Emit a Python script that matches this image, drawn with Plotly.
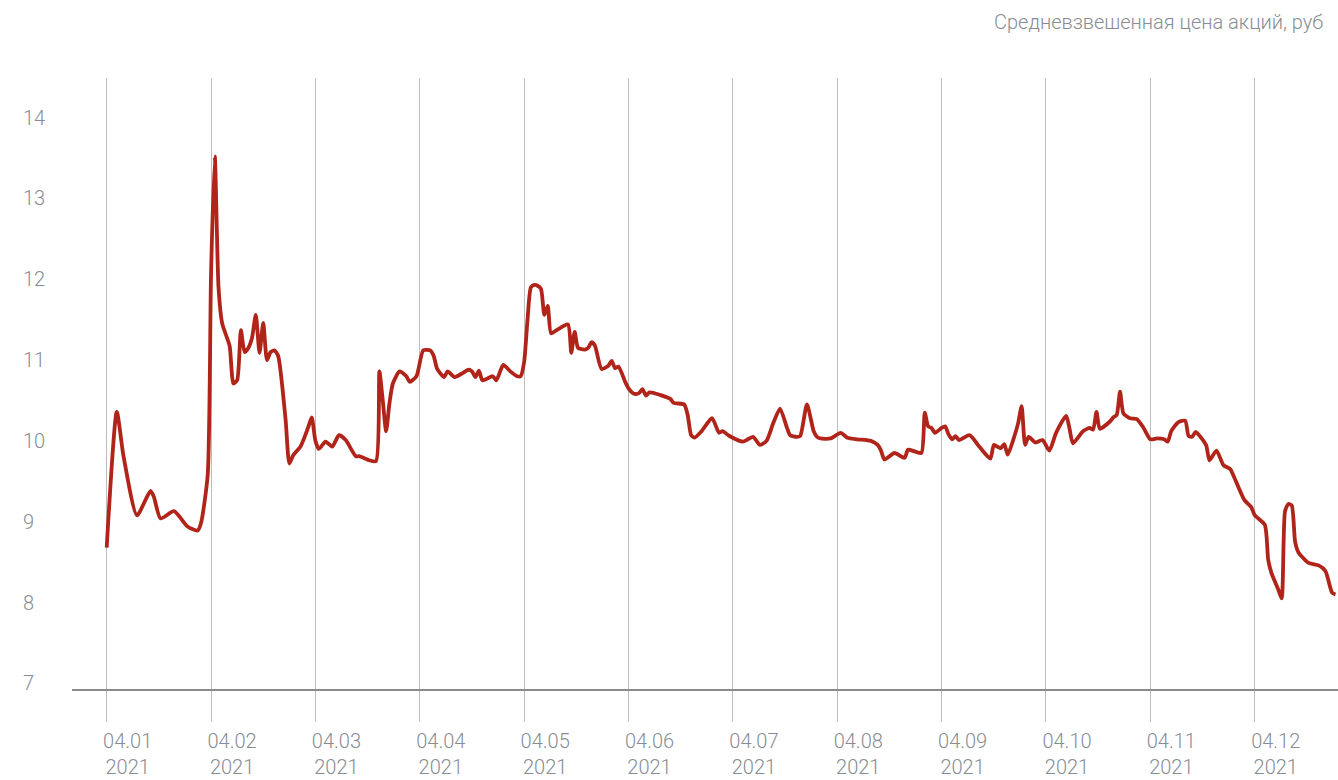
import datetime as dt
import plotly.graph_objects as go

# Weighted average share price, 2021 (rubles)
dates = [
    "2021-01-04", "2021-01-07", "2021-01-09", "2021-01-13", "2021-01-17", "2021-01-18",
    "2021-01-20", "2021-01-24", "2021-01-28", "2021-01-31", "2021-02-01", "2021-02-03",
    "2021-02-04", "2021-02-05", "2021-02-06", "2021-02-07", "2021-02-08", "2021-02-09",
    "2021-02-10", "2021-02-11", "2021-02-12", "2021-02-13", "2021-02-14", "2021-02-15",
    "2021-02-16", "2021-02-17", "2021-02-18", "2021-02-19", "2021-02-20", "2021-02-21",
    "2021-02-22", "2021-02-24", "2021-02-25", "2021-02-26", "2021-02-28", "2021-03-02",
    "2021-03-03", "2021-03-04", "2021-03-05", "2021-03-07", "2021-03-09", "2021-03-11",
    "2021-03-13", "2021-03-16", "2021-03-17", "2021-03-20", "2021-03-22", "2021-03-23",
    "2021-03-24", "2021-03-25", "2021-03-26", "2021-03-27", "2021-03-29", "2021-03-31",
    "2021-04-01", "2021-04-03", "2021-04-05", "2021-04-07", "2021-04-08", "2021-04-09",
    "2021-04-11", "2021-04-12", "2021-04-14", "2021-04-16", "2021-04-18", "2021-04-19",
    "2021-04-20", "2021-04-21", "2021-04-22", "2021-04-25", "2021-04-26", "2021-04-28",
    "2021-04-30", "2021-05-02", "2021-05-03", "2021-05-04", "2021-05-05", "2021-05-06",
    "2021-05-07", "2021-05-08", "2021-05-09", "2021-05-10", "2021-05-11", "2021-05-12",
    "2021-05-14", "2021-05-17", "2021-05-18", "2021-05-19", "2021-05-20", "2021-05-22",
    "2021-05-23", "2021-05-24", "2021-05-25", "2021-05-27", "2021-05-29", "2021-05-30",
    "2021-05-31", "2021-06-01", "2021-06-03", "2021-06-04", "2021-06-05", "2021-06-06",
    "2021-06-07", "2021-06-08", "2021-06-09", "2021-06-10", "2021-06-13", "2021-06-16",
    "2021-06-17", "2021-06-20", "2021-06-21", "2021-06-22", "2021-06-23", "2021-06-25",
    "2021-06-28", "2021-06-30", "2021-07-01", "2021-07-03", "2021-07-07", "2021-07-10",
    "2021-07-12", "2021-07-14", "2021-07-16", "2021-07-18", "2021-07-20", "2021-07-21",
    "2021-07-23", "2021-07-24", "2021-07-26", "2021-07-28", "2021-07-29", "2021-07-30",
    "2021-08-02", "2021-08-05", "2021-08-07", "2021-08-10", "2021-08-14", "2021-08-16",
    "2021-08-17", "2021-08-18", "2021-08-21", "2021-08-24", "2021-08-25", "2021-08-27",
    "2021-08-29", "2021-08-30", "2021-08-31", "2021-09-01", "2021-09-02", "2021-09-04",
    "2021-09-05", "2021-09-06", "2021-09-07", "2021-09-08", "2021-09-09", "2021-09-12",
    "2021-09-15", "2021-09-18", "2021-09-19", "2021-09-20", "2021-09-21", "2021-09-22",
    "2021-09-23", "2021-09-25", "2021-09-26", "2021-09-27", "2021-09-28", "2021-09-29",
    "2021-10-01", "2021-10-03", "2021-10-05", "2021-10-07", "2021-10-10", "2021-10-11",
    "2021-10-12", "2021-10-15", "2021-10-17", "2021-10-18", "2021-10-19", "2021-10-20",
    "2021-10-23", "2021-10-24", "2021-10-25", "2021-10-26", "2021-10-27", "2021-10-29",
    "2021-10-31", "2021-11-02", "2021-11-04", "2021-11-06", "2021-11-08", "2021-11-09",
    "2021-11-10", "2021-11-12", "2021-11-14", "2021-11-15", "2021-11-16", "2021-11-17",
    "2021-11-20", "2021-11-21", "2021-11-23", "2021-11-25", "2021-11-27", "2021-11-28",
    "2021-12-01", "2021-12-03", "2021-12-04", "2021-12-07", "2021-12-08", "2021-12-09",
    "2021-12-10", "2021-12-11", "2021-12-12", "2021-12-13", "2021-12-14", "2021-12-15",
    "2021-12-16", "2021-12-17", "2021-12-20", "2021-12-23", "2021-12-25", "2021-12-27",
    "2021-12-28",
]

prices = [
    8.68, 10.36, 9.81, 9.08, 9.38, 9.31,
    9.04, 9.13, 8.94, 8.89, 8.98, 9.58,
    12.08, 13.52, 11.90, 11.45, 11.31, 11.17,
    10.71, 10.75, 11.37, 11.10, 11.15, 11.28,
    11.56, 11.09, 11.46, 11.00, 11.10, 11.12,
    11.05, 10.26, 9.72, 9.82, 9.93, 10.16,
    10.29, 10.00, 9.90, 9.99, 9.93, 10.07,
    10.01, 9.81, 9.81, 9.76, 9.75, 10.86,
    10.50, 10.12, 10.47, 10.71, 10.86, 10.80,
    10.73, 10.80, 11.12, 11.12, 11.05, 10.89,
    10.79, 10.86, 10.79, 10.83, 10.88, 10.86,
    10.79, 10.87, 10.75, 10.80, 10.75, 10.94,
    10.86, 10.80, 10.80, 10.98, 11.50, 11.90,
    11.93, 11.92, 11.88, 11.56, 11.67, 11.33,
    11.38, 11.44, 11.09, 11.35, 11.15, 11.13,
    11.15, 11.22, 11.18, 10.89, 10.93, 10.99,
    10.90, 10.92, 10.73, 10.65, 10.60, 10.58,
    10.59, 10.64, 10.56, 10.60, 10.57, 10.52,
    10.47, 10.45, 10.32, 10.07, 10.04, 10.12,
    10.28, 10.10, 10.12, 10.06, 9.99, 10.05,
    9.95, 10.00, 10.22, 10.40, 10.17, 10.07,
    10.05, 10.06, 10.45, 10.12, 10.05, 10.03,
    10.03, 10.10, 10.04, 10.02, 10.00, 9.95,
    9.88, 9.77, 9.85, 9.79, 9.89, 9.87,
    9.85, 10.35, 10.18, 10.16, 10.10, 10.16,
    10.18, 10.08, 10.02, 10.06, 10.01, 10.07,
    9.92, 9.78, 9.95, 9.93, 9.91, 9.96,
    9.83, 10.07, 10.22, 10.43, 9.95, 10.05,
    9.98, 10.01, 9.88, 10.10, 10.31, 10.15,
    9.97, 10.12, 10.16, 10.14, 10.36, 10.15,
    10.24, 10.29, 10.32, 10.61, 10.34, 10.28,
    10.27, 10.16, 10.02, 10.03, 10.02, 9.99,
    10.12, 10.23, 10.25, 10.06, 10.05, 10.11,
    9.95, 9.76, 9.88, 9.70, 9.65, 9.56,
    9.27, 9.18, 9.08, 8.96, 8.53, 8.36,
    8.26, 8.16, 8.05, 9.13, 9.22, 9.20,
    8.75, 8.62, 8.49, 8.46, 8.39, 8.12,
    8.10,
]

month_labels = ["04.01", "04.02", "04.03", "04.04", "04.05", "04.06",
                "04.07", "04.08", "04.09", "04.10", "04.11", "04.12"]
year_label = "2021"
y_ticks = [7, 8, 9, 10, 11, 12, 13, 14]
title_text = "Средневзвешенная цена акций, руб"

MONTH_DAYS = [31, 28, 31, 30, 31, 30, 31, 31, 30, 31, 30, 31]


def month_position(s):
    """Position on an axis where each period from the 4th to the 4th has equal width."""
    d = dt.date.fromisoformat(s)
    m = d.month - 1
    if d.day >= 4:
        return m + (d.day - 4) / MONTH_DAYS[m]
    prev = (m - 1) % 12
    return m - 1 + (d.day - 4 + MONTH_DAYS[prev]) / MONTH_DAYS[prev]


xpos = [month_position(s) for s in dates]

LINE_RED = "#B0241A"
TEXT_GREY = "#878d94"
GRID_GREY = "#bdbdbd"
FONT = "Roboto"

fig = go.Figure()
fig.add_trace(go.Scatter(
    x=xpos, y=prices, mode="lines",
    line=dict(color=LINE_RED, width=3.8, shape="spline", smoothing=0.6),
    hoverinfo="skip",
))

fig.update_xaxes(
    range=[-0.3325, 11.798],
    automargin=False,
    tickmode="array",
    tickvals=list(range(len(month_labels))),
    ticktext=[f"{m}<br>{year_label}" for m in month_labels],
    showgrid=True, gridcolor=GRID_GREY, gridwidth=1,
    ticks="outside", ticklen=31, tickcolor=GRID_GREY, tickwidth=1,
    ticklabelshift=21, ticklabelstandoff=2,
    showline=True, linecolor="#8a8a8a", linewidth=1.5,
    zeroline=False,
    tickfont=dict(family=FONT, size=20, color=TEXT_GREY, weight=300),
)
fig.update_yaxes(
    range=[6.93, 14.49],
    automargin=False,
    showgrid=False, zeroline=False, showticklabels=False, showline=False,
)

annotations = [
    dict(xref="paper", yref="y", x=-51 / 1266, y=v, text=str(v),
         xanchor="left", yanchor="middle", showarrow=False,
         font=dict(family=FONT, size=20, color=TEXT_GREY, weight=300))
    for v in y_ticks
]
annotations.append(dict(
    xref="paper", yref="paper", x=1, y=(689 - 22) / 611, xshift=-13,
    text=title_text, xanchor="right", yanchor="middle", showarrow=False,
    font=dict(family=FONT, size=20, color=TEXT_GREY, weight=300),
))

fig.update_layout(
    width=1338, height=780,
    margin=dict(l=72, r=0, t=78, b=91),
    plot_bgcolor="white", paper_bgcolor="white",
    showlegend=False,
    annotations=annotations,
)

fig.write_html("out.html")
